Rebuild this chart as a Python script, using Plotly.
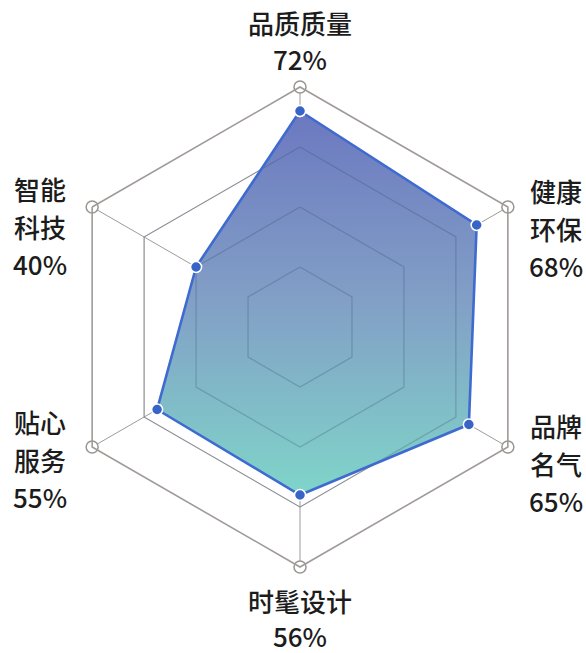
import plotly.graph_objects as go

categories = ['品质质量', '健康环保', '品牌名气', '时髦设计', '贴心服务', '智能科技']
label_names = ['品质质量', '健康<br>环保', '品牌<br>名气', '时髦设计', '贴心<br>服务', '智能<br>科技']
values = [72, 68, 65, 56, 55, 40]
ring_ticks = [20, 40, 60, 80]
r_max = 80

W, H = 586, 653
# label anchor positions in pixels (x from left, y from top) and line-spacing font size
label_pos = [(300, 41), (556, 228), (556, 463), (300, 618), (40, 459), (40, 226)]
label_spacing = [28, 29, 29, 27, 29, 29]

theta_closed = categories + [categories[0]]
values_closed = values + [values[0]]

fig = go.Figure()

# filled area (vertical gradient applied after render)
fig.add_trace(go.Scatterpolar(
    r=values_closed, theta=theta_closed, mode='lines', fill='toself',
    fillcolor='rgb(128,164,200)', line=dict(width=0, color='rgba(0,0,0,0)'),
    hoverinfo='skip', showlegend=False))

# inner rings redrawn above the fill
for t in ring_ticks[:-1]:
    fig.add_trace(go.Scatterpolar(
        r=[t] * (len(categories) + 1), theta=theta_closed, mode='lines',
        line=dict(color='rgba(50,70,100,0.26)', width=1.3),
        hoverinfo='skip', showlegend=False))

# outer vertex circles
fig.add_trace(go.Scatterpolar(
    r=[r_max] * len(categories), theta=categories, mode='markers',
    marker=dict(size=12, color='white', line=dict(color='#9a9591', width=1.5)),
    hoverinfo='skip', showlegend=False, cliponaxis=False))

# data line + points
fig.add_trace(go.Scatterpolar(
    r=values_closed, theta=theta_closed, mode='lines+markers',
    line=dict(color='#3f6bd0', width=2.6),
    marker=dict(size=11, color='#3764c6', line=dict(color='white', width=1.5)),
    showlegend=False, cliponaxis=False))

cx, cy, R = 300, 327, 240
fig.update_layout(
    width=W, height=H,
    margin=dict(l=0, r=0, t=0, b=0),
    paper_bgcolor='white',
    plot_bgcolor='white',
    polar=dict(
        domain=dict(x=[(cx - R) / W, (cx + R) / W], y=[(H - cy - R) / H, (H - cy + R) / H]),
        bgcolor='white',
        gridshape='linear',
        radialaxis=dict(range=[0, r_max], tickvals=ring_ticks, showticklabels=False,
                        ticks='', showline=False, gridcolor='#aaa5a2', gridwidth=1.4),
        angularaxis=dict(categoryorder='array', categoryarray=categories,
                         rotation=90, direction='clockwise', showticklabels=False,
                         ticks='', showline=True, linecolor='#a09b98', linewidth=1.6,
                         gridcolor='#a09b98', gridwidth=1.4),
    ),
)

for name, v, (px, py), sp in zip(label_names, values, label_pos, label_spacing):
    fig.add_annotation(
        x=px / W, y=1 - py / H, xref='paper', yref='paper',
        text=f"<span style='font-size:26px'>{name}<br>{v}%</span>",
        showarrow=False, xanchor='center', yanchor='middle', align='center',
        font=dict(family='Noto Sans CJK SC', size=sp, color='#1c1c1c', weight=500))

gradient_js = """
document.body.style.margin = '0';
document.body.style.overflow = 'hidden';
var gd = document.getElementById('{plot_id}');
var ns = 'http://www.w3.org/2000/svg';
var svg = gd.querySelector('svg.main-svg');
var defs = svg.querySelector('defs');
if (!defs) { defs = document.createElementNS(ns, 'defs'); svg.insertBefore(defs, svg.firstChild); }
var lg = document.createElementNS(ns, 'linearGradient');
lg.setAttribute('id', 'radarGrad');
lg.setAttribute('x1', '0'); lg.setAttribute('y1', '0');
lg.setAttribute('x2', '0'); lg.setAttribute('y2', '1');
[['0', '#6b78c0'], ['0.5', '#82a0c6'], ['1', '#7fd5c9']].forEach(function (s) {
  var st = document.createElementNS(ns, 'stop');
  st.setAttribute('offset', s[0]);
  st.setAttribute('stop-color', s[1]);
  lg.appendChild(st);
});
defs.appendChild(lg);
var fills = gd.querySelectorAll('.polarlayer path.js-fill');
if (fills.length) {
  fills[0].style.setProperty('fill', 'url(#radarGrad)');
  fills[0].style.setProperty('fill-opacity', '1');
}
"""

fig.write_html('out.html', post_script=gradient_js, config={'displayModeBar': False})
